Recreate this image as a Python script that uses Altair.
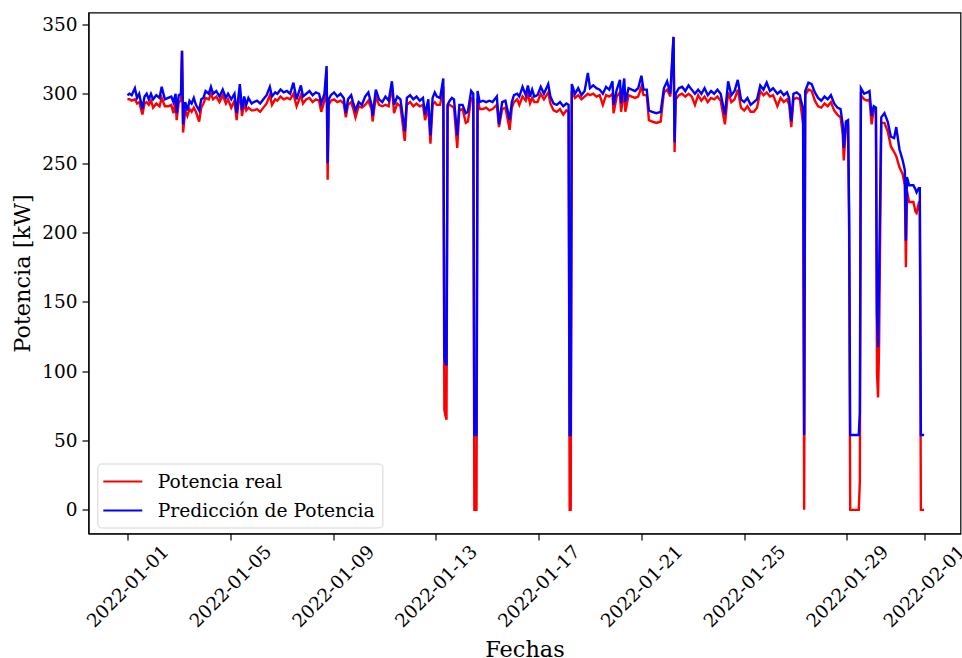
import altair as alt
import pandas as pd

# Hours after 2022-01-01 00:00
horas = [0, 2, 4, 7, 9, 11, 14, 16, 18, 20, 22, 24, 27, 30, 32, 35, 38, 41, 43, 45, 46, 48, 50, 51, 52, 54, 56, 58, 60, 62, 64, 67, 69, 71,
         73, 76, 78, 80, 83, 86, 89, 92, 94, 97, 100, 102, 105, 107, 109, 111, 113, 116, 118, 121, 124, 127, 130, 133, 135, 138, 140,
         143, 146, 149, 152, 155, 158, 162, 164, 167, 170, 173, 176, 179, 181, 184, 186, 187, 188, 190, 193, 196, 199, 202, 204, 206,
         209, 211, 213, 216, 219, 222, 225, 228, 229, 232, 235, 238, 241, 244, 247, 249, 252, 255, 259, 261, 264, 267, 270, 273, 276,
         278, 281, 283, 285, 287, 289, 292, 295, 296, 297, 298, 299, 301, 303, 305, 308, 310, 313, 316, 318, 321, 323, 324, 326, 327,
         329, 332, 335, 338, 341, 345, 347, 350, 353, 357, 359, 361, 364, 366, 369, 372, 374, 376, 378, 380, 383, 386, 389, 393, 395,
         398, 401, 404, 407, 410, 412, 413, 414, 415, 418, 421, 424, 427, 430, 432, 435, 438, 441, 444, 447, 450, 453, 454, 457, 460,
         461, 464, 465, 468, 471, 474, 477, 480, 482, 485, 487, 490, 494, 498, 501, 504, 507, 510, 511, 512, 515, 518, 521, 524, 527,
         530, 533, 536, 539, 542, 545, 548, 551, 554, 558, 561, 564, 567, 570, 573, 576, 579, 582, 585, 588, 591, 594, 597, 600, 603,
         607, 610, 613, 616, 618, 620, 622, 625, 628, 629, 631, 632, 633, 636, 639, 642, 645, 648, 651, 654, 657, 660, 663, 666, 668,
         669, 671, 673, 674, 675, 683, 684, 685, 688, 691, 693, 695, 697, 699, 700, 701, 702, 704, 707, 710, 713, 716, 718, 721, 724,
         726, 727, 728, 730, 734, 736, 737, 739, 740, 741, 744]

prediccion = [299, 300, 299, 304, 297, 300, 289, 298, 300, 296, 300, 296, 299, 297, 305, 296, 297, 298, 294, 300, 286, 299, 300, 331, 278, 294, 288, 295, 293, 297, 292, 288, 296, 297,
              302, 300, 305, 300, 302, 298, 303, 297, 300, 296, 300, 286, 307, 288, 298, 292, 297, 293, 294, 295, 293, 296, 299, 305, 298, 301, 300,
              303, 301, 302, 300, 308, 296, 306, 298, 300, 302, 299, 301, 300, 293, 300, 320, 250, 296, 299, 301, 298, 300, 297, 286, 296,
              299, 293, 288, 294, 292, 298, 301, 292, 284, 303, 296, 294, 298, 295, 309, 292, 298, 296, 273, 297, 299, 296, 298, 295, 297,
              285, 296, 270, 297, 301, 298, 297, 311, 110, 106, 104, 292, 295, 297, 296, 270, 292, 292, 286, 287, 302, 300, 54, 54, 302,
              294, 295, 294, 295, 294, 298, 278, 294, 295, 281, 294, 299, 300, 298, 305, 299, 306, 298, 303, 298, 299, 305, 300, 307, 298,
              293, 292, 294, 291, 293, 292, 54, 54, 307, 300, 304, 299, 302, 315, 304, 306, 304, 303, 300, 305, 303, 309, 292, 303, 310,
              293, 311, 294, 304, 303, 302, 304, 313, 303, 303, 288, 287, 286, 287, 304, 309, 300, 341, 265, 300, 304, 305, 302, 306, 303,
              300, 303, 300, 304, 299, 302, 300, 303, 300, 285, 309, 299, 302, 310, 296, 294, 297, 292, 294, 296, 306, 303, 308, 302, 304,
              300, 302, 299, 301, 297, 280, 300, 301, 299, 295, 290, 54, 302, 308, 307, 301, 297, 295, 298, 296, 299, 293, 290, 289, 278,
              261, 280, 281, 215, 54, 54, 70, 304, 300, 301, 302, 284, 291, 290, 142, 117, 170, 283, 286, 280, 269, 268, 276, 260, 252,
              245, 194, 240, 234, 234, 231, 229, 232, 232, 54, 54]

real = [296, 296, 295, 296, 293, 294, 285, 293, 294, 292, 295, 290, 293, 291, 297, 291, 291, 292, 286, 295, 281, 294, 295, 331, 272, 288, 284, 289, 287, 290, 287, 280, 290, 293,
        297, 296, 300, 296, 298, 294, 299, 293, 296, 290, 295, 281, 303, 284, 293, 288, 290, 288, 288, 289, 287, 290, 293, 299, 292, 296, 295,
        298, 296, 297, 296, 300, 291, 299, 293, 296, 297, 294, 296, 295, 287, 295, 316, 238, 292, 295, 296, 294, 295, 293, 283, 292,
        294, 289, 283, 291, 290, 292, 295, 289, 280, 298, 292, 291, 292, 291, 306, 286, 293, 291, 266, 292, 294, 291, 293, 291, 292,
        281, 290, 264, 292, 294, 292, 292, 305, 72, 68, 65, 291, 292, 291, 290, 261, 288, 289, 279, 280, 297, 296, 0, 0, 297,
        289, 289, 290, 288, 289, 292, 276, 289, 290, 274, 290, 294, 296, 292, 298, 295, 300, 293, 297, 294, 294, 300, 296, 301, 293,
        288, 287, 289, 285, 288, 287, 0, 0, 302, 297, 299, 296, 298, 300, 299, 300, 298, 299, 292, 299, 298, 300, 286, 298, 301,
        287, 303, 287, 299, 298, 297, 298, 305, 299, 299, 281, 280, 279, 280, 301, 303, 298, 341, 258, 296, 299, 300, 298, 300, 298,
        292, 299, 295, 298, 294, 297, 296, 298, 295, 278, 301, 294, 296, 303, 290, 288, 291, 287, 287, 290, 302, 299, 301, 298, 299,
        291, 297, 294, 296, 292, 276, 296, 297, 296, 290, 278, 0, 299, 303, 302, 295, 291, 290, 293, 291, 294, 288, 285, 283, 271,
        252, 276, 277, 200, 0, 0, 20, 299, 296, 295, 296, 278, 289, 288, 99, 81, 120, 279, 279, 273, 262, 258, 255, 247, 242,
        234, 175, 230, 222, 222, 215, 214, 221, 220, 0, 0]

serie_real = "Potencia real"
serie_pred = "Predicción de Potencia"

ticks_fecha = [(2022, 1, 1), (2022, 1, 5), (2022, 1, 9), (2022, 1, 13), (2022, 1, 17),
               (2022, 1, 21), (2022, 1, 25), (2022, 1, 29), (2022, 2, 1)]
ticks_potencia = [0, 50, 100, 150, 200, 250, 300, 350]

inicio = pd.Timestamp("2022-01-01 00:00")
df = pd.DataFrame({
    "fecha": [inicio + pd.Timedelta(hours=h) for h in horas],
    "real": real,
    "prediccion": prediccion,
})

FONT = "DejaVu Serif"

color_scale = alt.Scale(domain=[serie_real, serie_pred], range=["#ff0000", "#0000ff"])
legend = alt.Legend(
    title=None, orient="none", legendX=8.8, legendY=451,
    symbolType="M-2,0H2", symbolSize=380, symbolStrokeWidth=2.2, symbolOffset=7.5,
    labelFont=FONT, labelFontSize=18.7, labelColor="black", labelOffset=24, labelLimit=0,
    padding=7, cornerRadius=4, strokeColor="#d4d4d4", fillColor="rgba(255,255,255,0.85)",
    rowPadding=8,
)

x_enc = alt.X(
    "fecha:T",
    scale=alt.Scale(domain=[alt.DateTime(year=2021, month=12, date=30, hours=11, minutes=40),
                            alt.DateTime(year=2022, month=2, date=2, hours=10)]),
    axis=alt.Axis(
        values=[alt.DateTime(year=y, month=m, date=d) for (y, m, d) in ticks_fecha],
        format="%Y-%m-%d", labelAngle=315, labelAlign="center", labelBaseline="middle",
        labelPadding=46, tickSize=6.5, title="Fechas", titleY=123, titleBaseline="alphabetic",
        labelFlush=False, labelOverlap=False,
    ),
)

def y_enc(campo):
    return alt.Y(
        f"{campo}:Q",
        scale=alt.Scale(domain=[-17.07, 358.6], nice=False, zero=False),
        axis=alt.Axis(values=ticks_potencia, title="Potencia [kW]", tickSize=6.5, labelPadding=5,
                      titleX=-66.5, titleY=260.5, titleAngle=270, titleAlign="center",
                      titleBaseline="middle"),
    )

color_enc = alt.Color("serie:N", scale=color_scale, legend=legend)

base = alt.Chart(df)
linea_real = base.transform_calculate(serie=f"'{serie_real}'").mark_line(
    strokeWidth=2.4, interpolate="linear"
).encode(x=x_enc, y=y_enc("real"), color=color_enc)
linea_pred = base.transform_calculate(serie=f"'{serie_pred}'").mark_line(
    strokeWidth=2.4, interpolate="linear"
).encode(x=x_enc, y=y_enc("prediccion"), color=color_enc)

chart = alt.layer(linea_real, linea_pred).properties(
    width=872, height=521,
    padding={"left": 88.5, "top": 12.5, "right": 1.5, "bottom": 124.5},
    autosize=alt.AutoSizeParams(type="none"),
).configure_view(
    stroke="black", strokeWidth=1.2
).configure_axis(
    grid=False, domainColor="black", domainWidth=1.2, tickColor="black", tickWidth=1.2,
    labelColor="black", labelFont=FONT, labelFontSize=18.5,
    titleColor="black", titleFont=FONT, titleFontSize=22.4, titleFontWeight="normal",
)

chart.save("out.html", embed_options={"renderer": "svg", "actions": False})
